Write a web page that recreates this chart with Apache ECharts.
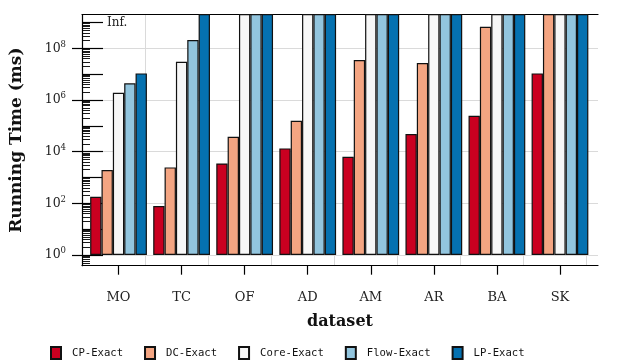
<!DOCTYPE html>
<html>
<head>
<meta charset="utf-8">
<script src="https://cdn.jsdelivr.net/npm/echarts@6/dist/echarts.min.js"></script>
<style>
html,body{margin:0;padding:0;background:#fff}
#chart{width:621px;height:360px}
</style>
</head>
<body>
<div id="chart"></div>
<script>
// "Inf." runs are drawn past the top of the axis and clipped
var INF = 1e10;
var categories = ['MO', 'TC', 'OF', 'AD', 'AM', 'AR', 'BA', 'SK'];
var cpExact   = [180, 79, 3500, 13400, 6300, 48000, 245000, 10700000];
var dcExact   = [1950, 2460, 38000, 158000, 35000000, 27000000, 680000000, INF];
var coreExact = [1900000, 30000000, INF, INF, INF, INF, INF, INF];
var flowExact = [4400000, 210000000, INF, INF, INF, INF, INF, INF];
var lpExact   = [10700000, INF, INF, INF, INF, INF, INF, INF];

var labelTicks = [1, 1e2, 1e4, 1e6, 1e8];
var majorTicks = [1, 1e1, 1e2, 1e3, 1e4, 1e5, 1e6, 1e7, 1e8, 1e9];
var infTick = [1e9];
var minorTicks = [];
for (var d = 0.1; d < 1e9; d *= 10) {
  for (var m = 2; m <= 9; m++) minorTicks.push(Math.round(d * m * 1000) / 1000);
}

var yMin = 0.386, yMax = 2.0e9;
var serif = 'DejaVu Serif';

var chart = echarts.init(document.getElementById('chart'));

function logAxis(grid, extra) {
  var a = {
    type: 'log', gridIndex: grid, position: 'left', offset: 0,
    min: yMin, max: yMax,
    axisLine: {show: false, onZero: false}, axisTick: {show: false},
    axisLabel: {show: false}, splitLine: {show: false}
  };
  for (var k in extra) a[k] = extra[k];
  return a;
}

var colors = ['#ca0020', '#f4a582', '#f7f7f7', '#92c5de', '#0571b0'];
var names = ['CP-Exact', 'DC-Exact', 'Core-Exact', 'Flow-Exact', 'LP-Exact'];
var values = [cpExact, dcExact, coreExact, flowExact, lpExact];

var series = names.map(function (n, i) {
  return {
    name: n, type: 'bar', xAxisIndex: 0, yAxisIndex: 0,
    data: values[i], barGap: '0%', barCategoryGap: '10%',
    itemStyle: {color: colors[i], borderColor: '#111', borderWidth: 1.2},
    clip: true
  };
});

var option = {
  animation: false,
  grid: [
    {left: 87, right: 29.5, top: 14.7, bottom: 94.3},
    {left: 82, right: 23, top: 14.7, bottom: 94.3}
  ],
  xAxis: [
    {
      type: 'category', gridIndex: 0, data: categories,
      axisLine: {show: false},
      axisTick: {show: true, alignWithLabel: true, length: 9, lineStyle: {color: '#000', width: 1.2}},
      axisLabel: {color: '#222', fontFamily: serif, fontSize: 13, margin: 25},
      splitLine: {show: false}
    },
    {
      type: 'value', gridIndex: 1, min: -0.579, max: 7.611, interval: 1,
      axisLine: {show: true, onZero: false, lineStyle: {color: '#000', width: 1.2}},
      axisTick: {show: false}, axisLabel: {show: false},
      splitLine: {show: true, showMinLine: false, showMaxLine: false, lineStyle: {color: '#dadada', width: 1}},
      name: 'dataset', nameLocation: 'middle', nameGap: 48,
      nameTextStyle: {fontFamily: serif, fontWeight: 'bold', fontSize: 16, color: '#111'}
    },
    {
      type: 'value', gridIndex: 1, position: 'top', min: -0.579, max: 7.611,
      axisLine: {show: true, onZero: false, lineStyle: {color: '#000', width: 1.2}},
      axisTick: {show: false}, axisLabel: {show: false}, splitLine: {show: false}
    }
  ],
  yAxis: [
    logAxis(0, {show: false}),
    logAxis(1, {
      axisLine: {show: true, onZero: false, lineStyle: {color: '#000', width: 1.2}},
      axisTick: {show: true, length: 10, customValues: labelTicks, lineStyle: {color: '#000', width: 1.2}},
      axisLabel: {
        show: true, customValues: labelTicks, margin: 16,
        formatter: function (v) {
          return '{b|10}{s|' + Math.round(Math.log10(v)) + '}';
        },
        rich: {
          b: {fontFamily: serif, fontSize: 12.5, color: '#222'},
          s: {fontFamily: serif, fontSize: 8.5, color: '#222', padding: [0, 0, 8, 0]}
        }
      },
      splitLine: {show: true, lineStyle: {color: '#dadada', width: 1}},
      name: 'Running Time (ms)', nameLocation: 'middle', nameGap: 57,
      nameTextStyle: {fontFamily: serif, fontWeight: 'bold', fontSize: 17, color: '#111'}
    }),
    logAxis(1, {
      axisTick: {show: true, inside: true, length: 21, customValues: majorTicks, lineStyle: {color: '#000', width: 1.2}}
    }),
    logAxis(1, {
      axisTick: {show: true, inside: true, length: 8, customValues: minorTicks, lineStyle: {color: '#000', width: 0.9}}
    }),
    logAxis(1, {
      axisLabel: {
        show: true, inside: true, customValues: infTick, margin: 25,
        formatter: function () { return 'Inf.'; },
        fontFamily: serif, fontSize: 12, color: '#222'
      }
    })
  ],
  legend: {
    left: 50, bottom: 0, padding: 0, icon: 'rect', itemWidth: 10, itemHeight: 12, itemGap: 21,
    textStyle: {fontFamily: 'DejaVu Sans Mono', fontSize: 10.6, color: '#111', padding: [0, 0, 0, 6]},
    data: names
  },
  series: series
};

chart.setOption(option);
</script>
</body>
</html>
